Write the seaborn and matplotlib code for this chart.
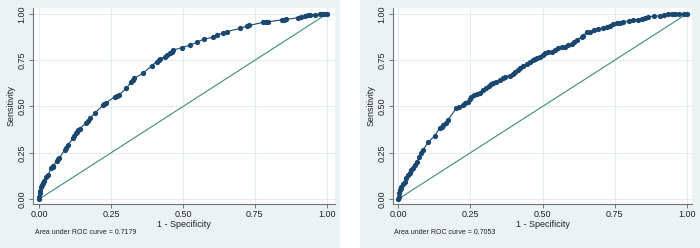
import matplotlib
matplotlib.use("Agg")
import matplotlib.pyplot as plt
from matplotlib.patches import Rectangle
import seaborn as sns
import pandas as pd

# ---- data ----
fpr_left = [0.0, 0.0, 0.002, 0.004, 0.007, 0.010, 0.013, 0.018, 0.024, 0.030, 0.042, 0.046, 0.049,
            0.060, 0.065, 0.070, 0.088, 0.094, 0.100, 0.117, 0.122, 0.127, 0.131, 0.135, 0.140,
            0.164, 0.170, 0.175, 0.193, 0.222, 0.226, 0.231, 0.262, 0.270, 0.277, 0.303, 0.320,
            0.326, 0.330, 0.360, 0.391, 0.408, 0.415, 0.420, 0.437, 0.445, 0.455, 0.460, 0.466,
            0.495, 0.524, 0.548, 0.573, 0.605, 0.617, 0.640, 0.652, 0.698, 0.722, 0.730, 0.779,
            0.788, 0.797, 0.843, 0.850, 0.860, 0.901, 0.910, 0.924, 0.935, 0.942, 0.960, 0.975,
            0.983, 0.992, 1.0]
tpr_left = [0.0, 0.012, 0.030, 0.045, 0.067, 0.076, 0.085, 0.100, 0.120, 0.130, 0.166, 0.172, 0.180,
            0.205, 0.215, 0.222, 0.265, 0.278, 0.292, 0.328, 0.340, 0.355, 0.362, 0.373, 0.380,
            0.412, 0.424, 0.436, 0.463, 0.508, 0.512, 0.517, 0.553, 0.557, 0.562, 0.598, 0.634,
            0.642, 0.652, 0.679, 0.720, 0.742, 0.751, 0.755, 0.769, 0.778, 0.788, 0.796, 0.805,
            0.818, 0.832, 0.847, 0.865, 0.874, 0.888, 0.896, 0.905, 0.922, 0.935, 0.938, 0.955,
            0.956, 0.958, 0.968, 0.969, 0.971, 0.980, 0.983, 0.989, 0.992, 0.995, 0.997, 0.999,
            1.0, 1.0, 1.0]

fpr_right = [0.0, 0.002, 0.004, 0.005, 0.008, 0.010, 0.016, 0.022, 0.028, 0.034, 0.040, 0.045,
             0.052, 0.057, 0.065, 0.072, 0.080, 0.086, 0.103, 0.126, 0.143, 0.150, 0.155, 0.165,
             0.172, 0.201, 0.210, 0.224, 0.232, 0.242, 0.248, 0.253, 0.262, 0.272, 0.282, 0.295,
             0.305, 0.314, 0.322, 0.329, 0.340, 0.353, 0.362, 0.370, 0.387, 0.396, 0.405, 0.414,
             0.422, 0.432, 0.445, 0.457, 0.466, 0.474, 0.482, 0.491, 0.500, 0.509, 0.520, 0.532,
             0.545, 0.555, 0.566, 0.578, 0.590, 0.601, 0.610, 0.619, 0.636, 0.641, 0.653, 0.665,
             0.680, 0.694, 0.711, 0.722, 0.734, 0.745, 0.757, 0.768, 0.780, 0.800, 0.815, 0.830,
             0.844, 0.856, 0.867, 0.885, 0.907, 0.920, 0.936, 0.948, 0.959, 0.975, 0.990, 1.0]
tpr_right = [0.0, 0.009, 0.030, 0.049, 0.058, 0.067, 0.080, 0.094, 0.112, 0.130, 0.143, 0.157,
             0.170, 0.184, 0.202, 0.225, 0.247, 0.265, 0.306, 0.341, 0.382, 0.390, 0.400, 0.412,
             0.427, 0.490, 0.497, 0.508, 0.517, 0.526, 0.540, 0.553, 0.562, 0.566, 0.571, 0.590,
             0.598, 0.612, 0.622, 0.625, 0.630, 0.643, 0.652, 0.661, 0.666, 0.677, 0.688, 0.697,
             0.706, 0.718, 0.730, 0.742, 0.750, 0.757, 0.763, 0.769, 0.778, 0.788, 0.792, 0.796,
             0.805, 0.815, 0.819, 0.823, 0.830, 0.836, 0.848, 0.859, 0.877, 0.880, 0.904, 0.904,
             0.912, 0.919, 0.926, 0.931, 0.937, 0.944, 0.950, 0.954, 0.958, 0.963, 0.968, 0.970,
             0.973, 0.980, 0.985, 0.988, 0.990, 0.994, 0.998, 0.999, 1.0, 1.0, 1.0, 1.0]

auc_texts = ["Area under ROC curve = 0.7179", "Area under ROC curve = 0.7053"]
ref_line = [0.0, 1.0]
ticks = [0.0, 0.25, 0.5, 0.75, 1.0]
tick_labels = ["0.00", "0.25", "0.50", "0.75", "1.00"]

# ---- styling ----
sns.set_theme(style="white")
plt.rcParams["font.family"] = ["Liberation Sans", "DejaVu Sans"]

NAVY = "#1a476f"
GREEN = "#3e8d76"
PANEL = "#eaf2f3"
GRID = "#e3edef"
AXIS = "#6f7478"

W, H = 700, 248
fig = plt.figure(figsize=(7.0, 2.48), dpi=100)
fig.patch.set_facecolor("white")

# panel backgrounds
fig.add_artist(Rectangle((0, 0), 340 / W, 1, transform=fig.transFigure,
                         facecolor=PANEL, edgecolor="none", zorder=-10))
fig.add_artist(Rectangle((360 / W, 0), 340 / W, 1, transform=fig.transFigure,
                         facecolor=PANEL, edgecolor="none", zorder=-10))

panels = [
    dict(fpr=fpr_left, tpr=tpr_left, box=(33, 8, 335, 204), x0=39.3, x1=326.7,
         auc=auc_texts[0], text_x=35),
    dict(fpr=fpr_right, tpr=tpr_right, box=(393, 8, 692, 204), x0=398.3, x1=686.7,
         auc=auc_texts[1], text_x=394),
]

Y0, Y1 = 199.0, 14.0  # pixel rows of y=0 and y=1

for p in panels:
    l, t, r, b = p["box"]
    ax = fig.add_axes([l / W, (H - b) / H, (r - l) / W, (b - t) / H])
    ax.set_facecolor("white")
    sx = p["x1"] - p["x0"]
    sy = Y0 - Y1
    ax.set_xlim((l - p["x0"]) / sx, (r - p["x0"]) / sx)
    ax.set_ylim((Y0 - b) / sy, (Y0 - t) / sy)

    for v in ticks:
        ax.axvline(v, color=GRID, lw=0.8, zorder=0)
        ax.axhline(v, color=GRID, lw=0.8, zorder=0)

    df = pd.DataFrame({"fpr": p["fpr"], "tpr": p["tpr"]})
    sns.lineplot(data=df, x="fpr", y="tpr", sort=False, estimator=None,
                 color=NAVY, lw=0.8, marker="o", markersize=3.8,
                 markeredgewidth=0, markerfacecolor=NAVY, ax=ax, zorder=3)
    sns.lineplot(x=ref_line, y=ref_line, color=GREEN, lw=0.8, ax=ax, zorder=2)

    for s in ["top", "right"]:
        ax.spines[s].set_visible(False)
    for s in ["left", "bottom"]:
        ax.spines[s].set_color(AXIS)
        ax.spines[s].set_linewidth(0.8)

    ax.set_xticks(ticks)
    ax.set_xticklabels(tick_labels, fontsize=6.5, color="#222222")
    ax.set_yticks(ticks)
    ax.set_yticklabels(tick_labels, fontsize=6.5, color="#222222",
                       rotation=90, va="center")
    ax.tick_params(axis="both", direction="out", length=3, width=0.7,
                   color=AXIS, pad=1.5, left=True, bottom=True)
    ax.set_xlabel("1 - Specificity", fontsize=6.5, color="#222222", labelpad=0.5)
    ax.set_ylabel("Sensitivity", fontsize=6.5, color="#222222", labelpad=1.5)

    fig.text(p["text_x"] / W, (H - 233) / H, p["auc"], fontsize=5,
             color="#222222", ha="left", va="center")

fig.savefig("out.png", dpi=100, facecolor=fig.get_facecolor())
